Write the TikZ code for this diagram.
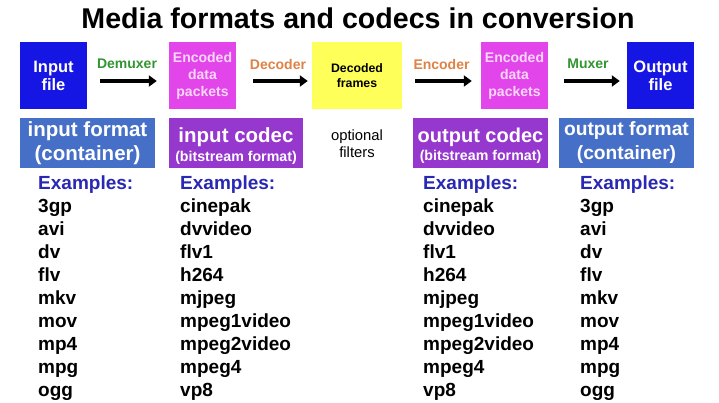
\documentclass[tikz,border=0pt]{standalone}
\usepackage{fontspec}
\setmainfont{Liberation Sans}
\usetikzlibrary{arrows.meta}
\definecolor{fileblue}{RGB}{22,22,228}
\definecolor{pktmag}{RGB}{226,70,234}
\definecolor{pkttext}{RGB}{250,215,250}
\definecolor{frmyel}{RGB}{255,255,90}
\definecolor{fmtblue}{RGB}{70,112,200}
\definecolor{codpur}{RGB}{150,55,205}
\definecolor{labgreen}{RGB}{50,150,50}
\definecolor{laborange}{RGB}{222,130,70}
\definecolor{exblue}{RGB}{40,40,180}
\begin{document}
\begin{tikzpicture}[x=1pt,y=-1pt,
  topbox/.style={minimum width=67pt,minimum height=67pt,inner sep=0pt,align=center,
    font=\fontsize{16.5}{18}\selectfont\bfseries},
  filebox/.style={topbox,fill=fileblue,text=white},
  pktbox/.style={topbox,fill=pktmag,text=pkttext,font=\fontsize{14}{17}\selectfont\bfseries},
  frmbox/.style={topbox,fill=frmyel,text=black,minimum width=90pt,font=\fontsize{12.3}{14.5}\selectfont\bfseries},
  infobox/.style={minimum width=135pt,minimum height=50pt,inner sep=0pt,align=center,text=white},
  fmtbox/.style={infobox,fill=fmtblue},
  codbox/.style={infobox,fill=codpur},
  codtext/.style={inner sep=0pt,align=center,text=white},
  flow/.style={line width=3.5pt,-{Triangle[length=8pt,width=11pt]}},
  steplabel/.style={font=\fontsize{14}{16}\selectfont\bfseries,inner sep=0pt},
  exhead/.style={anchor=base west,inner sep=0pt,text=exblue,font=\fontsize{19}{22}\selectfont\bfseries},
  exitem/.style={anchor=base west,inner sep=0pt,text=black,font=\fontsize{19}{22}\selectfont\bfseries}]
\useasboundingbox (0,0) rectangle (719,403);
\fill[white] (0,0) rectangle (719,403);

\node[inner sep=0pt,anchor=base,font=\fontsize{28.6}{32}\selectfont\bfseries] (title) at (358,29) {Media formats and codecs in conversion};

% top row
\node[filebox] (in) at (53.5,75.5) {Input\\file};
\node[pktbox] (p1) at (202.5,75.5) {Encoded\\data\\packets};
\node[frmbox] (fr) at (357,75.5) {Decoded\\frames};
\node[pktbox] (p2) at (514.5,75.5) {Encoded\\data\\packets};
\node[filebox] (out) at (660.5,75.5) {Output\\file};

\draw[flow,shorten <=13pt,shorten >=12pt] ([yshift=-5.5pt]in.east) -- ([yshift=-5.5pt]p1.west);
\draw[flow,shorten <=17pt,shorten >=4pt] ([yshift=-5.5pt]p1.east) -- ([yshift=-5.5pt]fr.west);
\draw[flow,shorten <=13pt,shorten >=9pt] ([yshift=-5.5pt]fr.east) -- ([yshift=-5.5pt]p2.west);
\draw[flow,shorten <=16pt,shorten >=7pt] ([yshift=-5.5pt]p2.east) -- ([yshift=-5.5pt]out.west);

\node[steplabel,text=labgreen] (dmx) at (127,64) {Demuxer};
\node[steplabel,text=laborange] (dec) at (278,64) {Decoder};
\node[steplabel,text=laborange] (enc) at (441.5,64) {Encoder};
\node[steplabel,text=labgreen] (mux) at (588,64) {Muxer};

% second row
\node[fmtbox,font=\fontsize{20.5}{24}\selectfont\bfseries] (ifmt) at (87.5,143) {input format\\(container)};
\node[codbox,minimum width=134pt] (icod) at (236,143) {};
\node[codtext] (icodt) at (236,146) {{\fontsize{20.5}{22}\selectfont\bfseries input codec}\\[3pt]{\fontsize{14.2}{15}\selectfont\bfseries (bitstream format)}};
\node[inner sep=0pt,align=center,font=\fontsize{14.8}{17}\selectfont] (filt) at (357,144) {optional\\filters};
\node[codbox] (ocod) at (480.5,143) {};
\node[codtext] (ocodt) at (480.5,146) {{\fontsize{20}{22}\selectfont\bfseries output codec}\\[3pt]{\fontsize{14.2}{15}\selectfont\bfseries (bitstream format)}};
\node[fmtbox,font=\fontsize{19.2}{24}\selectfont\bfseries] (ofmt) at (626.5,143) {output format\\(container)};

% example lists
\foreach \col/\x in {a/38,d/580}{
  \node[exhead] (\col0) at (\x,190) {Examples:};
  \foreach \t [count=\k] in {3gp,avi,dv,flv,mkv,mov,mp4,mpg,ogg}{
    \node[exitem] (\col\k) at (\x,190+22.9*\k) {\t};
  }
}
\foreach \col/\x in {b/180,c/423}{
  \node[exhead] (\col0) at (\x,190) {Examples:};
  \foreach \t [count=\k] in {cinepak,dvvideo,flv1,h264,mjpeg,mpeg1video,mpeg2video,mpeg4,vp8}{
    \node[exitem] (\col\k) at (\x,190+22.9*\k) {\t};
  }
}
\end{tikzpicture}
\end{document}
